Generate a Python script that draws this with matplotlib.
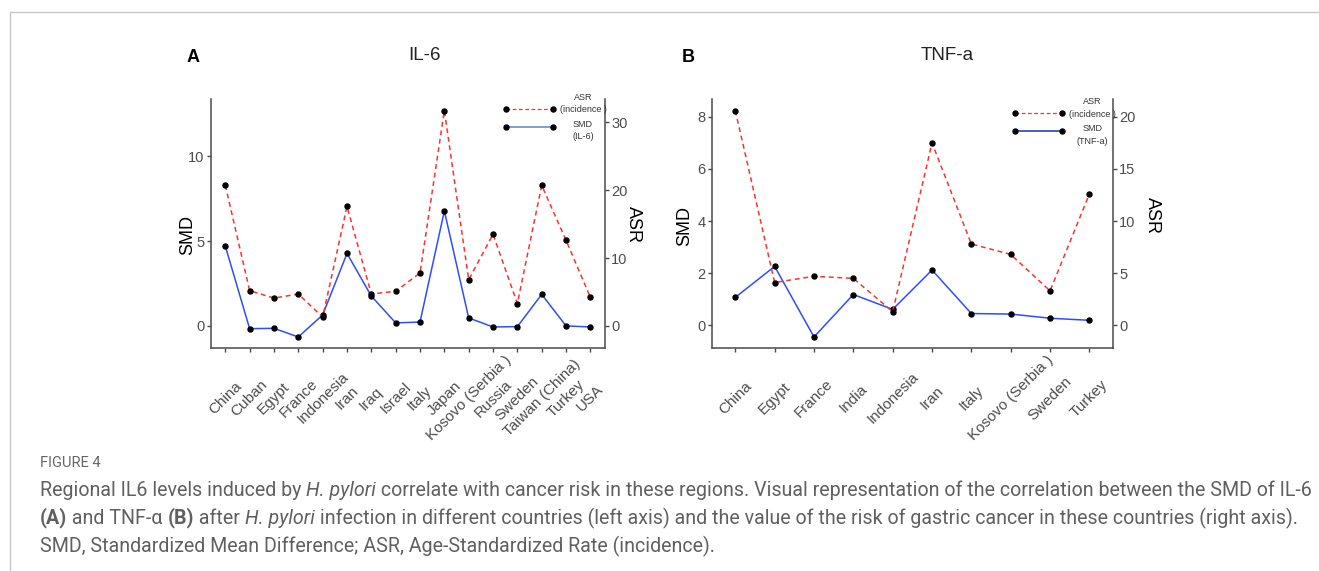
import matplotlib
matplotlib.use("Agg")
import matplotlib.pyplot as plt
from matplotlib.lines import Line2D

# --- data ---
countries_il6 = ["China", "Cuban", "Egypt", "France", "Indonesia", "Iran", "Iraq", "Israel",
                 "Italy", "Japan", "Kosovo (Serbia )", "Russia", "Sweden", "Taiwan (China)",
                 "Turkey", "USA"]
smd_il6 = [4.70, -0.16, -0.14, -0.65, 0.65, 4.27, 1.76, 0.18, 0.23, 6.77, 0.47, -0.06,
           -0.04, 1.86, 0.00, -0.06]
asr_il6 = [20.7, 5.2, 4.1, 4.7, 1.3, 17.6, 4.7, 5.1, 7.8, 31.7, 6.8, 13.5, 3.3, 20.7, 12.6, 4.2]

countries_tnf = ["China", "Egypt", "France", "India", "Indonesia", "Iran", "Italy",
                 "Kosovo (Serbia )", "Sweden", "Turkey"]
smd_tnf = [1.07, 2.26, -0.45, 1.18, 0.61, 2.12, 0.45, 0.43, 0.27, 0.19]
asr_tnf = [20.6, 4.1, 4.7, 4.5, 1.3, 17.5, 7.8, 6.8, 3.3, 12.6]

yticks_il6 = [0, 5, 10]
y2ticks_il6 = [0, 10, 20, 30]
yticks_tnf = [0, 2, 4, 6, 8]
y2ticks_tnf = [0, 5, 10, 15, 20]

SCALE = 2.5  # secondary axis = SMD * 2.5

W, H = 1319, 571
plt.rcParams["font.family"] = ["Liberation Sans", "DejaVu Sans"]

RED = "#FF3030"
BLUE = "#2F4DFF"
AXC = "#4A4A4A"
TXT = "#4D4D4D"

fig = plt.figure(figsize=(W / 100, H / 100), dpi=100)


def fx(x):
    return x / W


def fy(y):
    return 1 - y / H


def rect(left, top, right, bottom):
    return [fx(left), fy(bottom), fx(right) - fx(left), fy(top) - fy(bottom)]


def panel(box, cats, smd, asr, yt, y2t):
    ax = fig.add_axes(box)
    ax2 = ax.twinx()
    n = len(cats)
    x = list(range(n))

    lo = min(min(smd), min(a / SCALE for a in asr))
    hi = max(max(smd), max(a / SCALE for a in asr))
    pad = (hi - lo) * 0.05
    ax.set_ylim(lo - pad, hi + pad)
    ax2.set_ylim((lo - pad) * SCALE, (hi + pad) * SCALE)
    ax.set_xlim(-0.6, n - 0.4)

    ax.plot(x, smd, color=BLUE, lw=1.1, zorder=2)
    ax.plot(x, smd, "o", color="black", ms=3.6, zorder=3)
    ax2.plot(x, asr, color=RED, lw=1.1, ls=(0, (3.2, 2.4)), zorder=2)
    ax2.plot(x, asr, "o", color="black", ms=3.6, zorder=3)

    ax.set_yticks(yt)
    ax2.set_yticks(y2t)
    ax.set_xticks(x)
    ax.set_xticklabels(cats, rotation=45, ha="center", va="center", rotation_mode="anchor")

    for a in (ax, ax2):
        for s in a.spines.values():
            s.set_visible(False)
            s.set_color(AXC)
            s.set_linewidth(1.1)
        a.tick_params(colors=AXC, labelcolor=TXT, labelsize=10.5, length=3, width=1.0)
    ax.spines["left"].set_visible(True)
    ax.spines["bottom"].set_visible(True)
    ax2.spines["right"].set_visible(True)
    ax.tick_params(axis="y", pad=1.5)
    ax2.tick_params(axis="y", pad=1.5)
    ax.tick_params(axis="x", pad=33, labelsize=11)
    return ax, ax2


def legend(x0, x1, y_asr, y_smd, tx, smd_label, smd_col):
    fig.add_artist(Line2D([fx(x0), fx(x1)], [fy(y_asr)] * 2, color=RED, lw=0.9,
                          ls=(0, (3, 2)), marker="o", ms=3.6, mfc="black", mec="black"))
    fig.add_artist(Line2D([fx(x0), fx(x1)], [fy(y_smd)] * 2, color=smd_col, lw=1.2,
                          marker="o", ms=3.6, mfc="black", mec="black"))
    kw = dict(ha="center", va="center", fontsize=6.5, color="#333333")
    fig.text(fx(tx), fy(y_asr - 11.5), "ASR", **kw)
    fig.text(fx(tx), fy(y_asr + 1), "(incidence )", **kw)
    fig.text(fx(tx), fy(y_smd - 2.5), "SMD", **kw)
    fig.text(fx(tx), fy(y_smd + 10), smd_label, **kw)


# panel A
panel(rect(210.7, 99.3, 605, 348.3), countries_il6, smd_il6, asr_il6, yticks_il6, y2ticks_il6)
fig.text(fx(193), fy(57), "A", fontsize=13, fontweight="bold", ha="center", va="center")
fig.text(fx(424), fy(55), "IL-6", fontsize=13.5, ha="center", va="center", color="#222222")
fig.text(fx(188), fy(235), "SMD", fontsize=13, rotation=90, ha="center", va="center")
fig.text(fx(633), fy(225), "ASR", fontsize=13, rotation=270, ha="center", va="center")
legend(506, 553, 109, 126.7, 583, "(IL-6)", "#6E8FC8")

# panel B
panel(rect(711.7, 99.3, 1113, 348.3), countries_tnf, smd_tnf, asr_tnf, yticks_tnf, y2ticks_tnf)
fig.text(fx(688), fy(57), "B", fontsize=13, fontweight="bold", ha="center", va="center")
fig.text(fx(947), fy(55), "TNF-a", fontsize=13.5, ha="center", va="center", color="#222222")
fig.text(fx(685), fy(226), "SMD", fontsize=13, rotation=90, ha="center", va="center")
fig.text(fx(1152), fy(215), "ASR", fontsize=13, rotation=270, ha="center", va="center")
legend(1015, 1062, 113.3, 131, 1092.5, "(TNF-a)", "#2A45A8")

# thin page frame
fig.add_artist(Line2D([fx(9.5), fx(9.5), fx(W)], [fy(H), fy(11.5), fy(11.5)],
                      color="#C8C8C8", lw=1.0))

# --- caption with mixed styles ---
CAP = "#606060"
renderer = fig.canvas.get_renderer()


def draw_runs(x, y, parts, size, keep=True):
    arts = []
    for s, style in parts:
        t = fig.text(fx(x), fy(y), s, fontsize=size, va="center", ha="left", color=CAP,
                     family=["Roboto", "DejaVu Sans"],
                     fontstyle="italic" if style == "i" else "normal",
                     fontweight="bold" if style == "b" else "normal")
        x += t.get_window_extent(renderer).width
        arts.append(t)
    if not keep:
        for t in arts:
            t.remove()
    return x


line1 = [("Regional IL6 levels induced by ", "n"), ("H. pylori", "i"),
         (" correlate with cancer risk in these regions. Visual representation of the "
          "correlation between the SMD of IL-6", "n")]
line2 = [("(A)", "b"), (" and TNF-\u03b1 ", "n"), ("(B)", "b"), (" after ", "n"),
         ("H. pylori", "i"),
         (" infection in different countries (left axis) and the value of the risk of "
          "gastric cancer in these countries (right axis).", "n")]
line3 = [("SMD, Standardized Mean Difference; ASR, Age-Standardized Rate (incidence).", "n")]

trial = 11.0
w = draw_runs(40, 490, line1, trial, keep=False) - 40
cap_size = trial * 1264 / w

fig.text(fx(40), fy(463), "FIGURE 4", fontsize=10.5, color="#666666", va="center",
         family=["Roboto", "DejaVu Sans"])
draw_runs(40, 490, line1, cap_size)
draw_runs(40, 518, line2, cap_size)
draw_runs(40, 546, line3, cap_size)

fig.savefig("out.png", dpi=100)
